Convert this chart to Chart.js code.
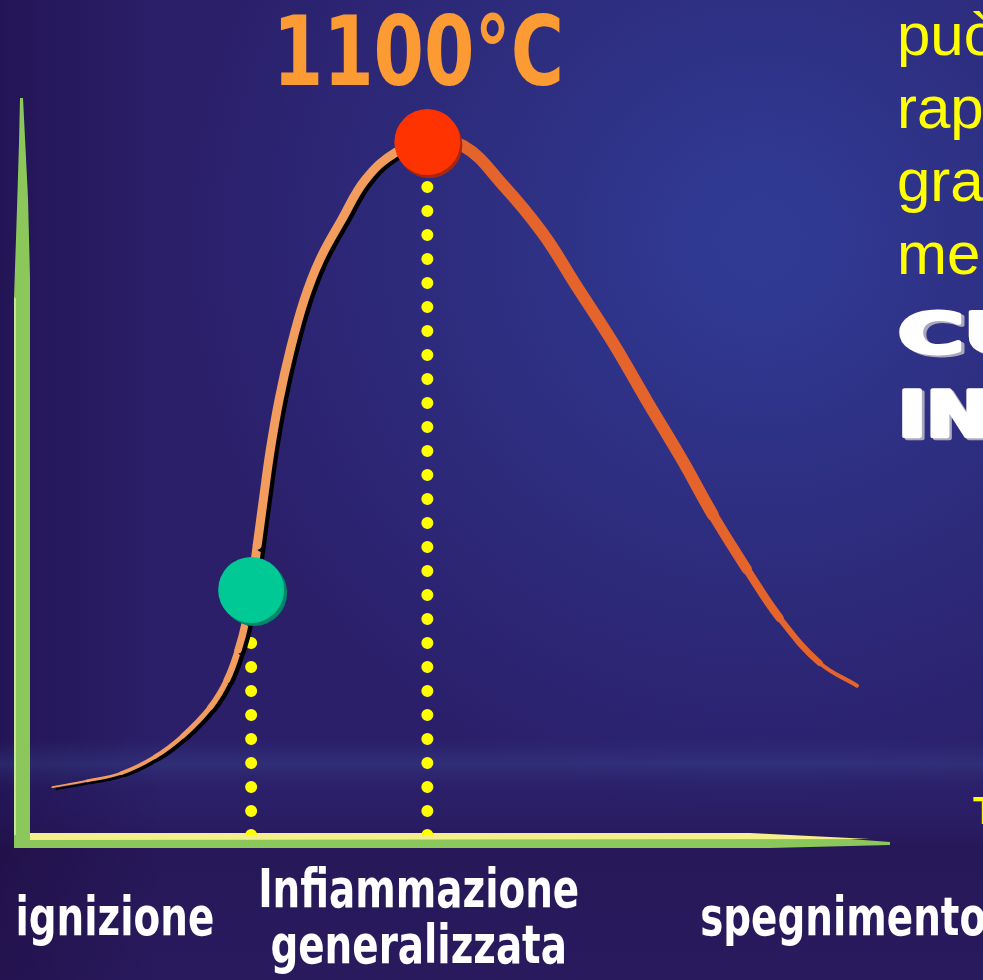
<!DOCTYPE html>
<html lang="it">
<head>
<meta charset="UTF-8">
<title>Curva dell'incendio</title>
<script src="https://cdn.jsdelivr.net/npm/chart.js"></script>
<style>
  html, body { margin: 0; padding: 0; background: #2a1f68; overflow: hidden; }
  #wrap { width: 983px; height: 980px; }
</style>
</head>
<body>
<div id="wrap"><canvas id="fireCurve"></canvas></div>
<script>
// fase di crescita (fino al picco)
const riseTime = [3.5, 7.5, 11.4, 15.3, 18.5, 21.7, 23.6, 24.9, 25.8, 26.4, 27.1, 27.8, 28.6, 29.6, 30.9, 32.5, 34.3, 36.8, 39.6, 43.1, 46.7];
const riseTemp = [76, 86, 98, 124, 157, 203, 246, 294, 341, 389, 460, 532, 611, 690, 770, 849, 913, 976, 1041, 1084, 1100];
// fase di decadimento
const fallTime = [46.7, 50.8, 55.4, 60.0, 63.9, 68.1, 72.0, 76.2, 79.6, 83.5, 87.3, 91.9, 96.2];
const fallTemp = [1100, 1094, 1032, 955, 871, 781, 689, 592, 508, 422, 344, 273, 237];

const flashTime = 26.4, flashTemp = 389;
const peakTime = 46.7, peakTemp = 1100;
const peakLabel = '1100°C';

const stageTime = [10.7, 45.7, 94.6];
const stageLabels = [['ignizione'], ['Infiammazione', 'generalizzata'], ['spegnimento']];

const sideLines = ['può', 'rap', 'gra', 'me'];
const sideBold = ['CU', 'IN'];

const timeMax = 100, tempMax = 1200, tempAxisTop = 1170;

const condensed = "'DejaVu Sans Condensed', 'DejaVu Sans', sans-serif";

const toXY = (xs, ys) => xs.map((x, i) => ({ x: x, y: ys[i] }));

// spessore variabile della curva
function riseWidth(c) {
  const t = c.p0DataIndex / (riseTime.length - 1);
  return 2 + 7 * Math.min(1, t * 2.2);
}
function fallWidth(c) {
  const t = c.p0DataIndex / (fallTime.length - 1);
  return t < 0.6 ? 12 : 12 - 10 * (t - 0.6) / 0.4;
}

const background = {
  id: 'background',
  beforeDraw(chart) {
    const { ctx, width, height } = chart;
    ctx.save();
    ctx.fillStyle = '#2b1f6a';
    ctx.fillRect(0, 0, width, height);
    let g = ctx.createRadialGradient(760, 240, 30, 760, 240, 580);
    g.addColorStop(0, 'rgba(50, 70, 165, 0.7)');
    g.addColorStop(1, 'rgba(50, 70, 165, 0)');
    ctx.fillStyle = g;
    ctx.fillRect(0, 0, width, height);
    g = ctx.createLinearGradient(0, 0, 160, 0);
    g.addColorStop(0, 'rgba(25, 8, 60, 0.45)');
    g.addColorStop(1, 'rgba(25, 8, 60, 0)');
    ctx.fillStyle = g;
    ctx.fillRect(0, 0, width, height);
    g = ctx.createLinearGradient(0, 740, 0, 980);
    g.addColorStop(0, 'rgba(60, 80, 150, 0)');
    g.addColorStop(0.1, 'rgba(60, 80, 150, 0.3)');
    g.addColorStop(0.22, 'rgba(40, 30, 90, 0.1)');
    g.addColorStop(0.45, 'rgba(30, 10, 55, 0.35)');
    g.addColorStop(1, 'rgba(35, 15, 65, 0.3)');
    ctx.fillStyle = g;
    ctx.fillRect(0, 740, width, 240);
    ctx.restore();
  }
};

const axes = {
  id: 'axes',
  beforeDatasetsDraw(chart) {
    const { ctx, scales: { x, y } } = chart;
    const x0 = x.getPixelForValue(0);
    const xEnd = x.getPixelForValue(timeMax);
    const y0 = y.getPixelForValue(0);
    const yTop = y.getPixelForValue(tempAxisTop);
    ctx.save();
    // asse verticale, appuntito in alto
    ctx.fillStyle = '#8cc75c';
    ctx.beginPath();
    ctx.moveTo(x0 - 2, yTop);
    ctx.lineTo(x0 + 1, yTop);
    ctx.lineTo(x0 + 3, yTop + 40);
    ctx.lineTo(x0 + 6, yTop + 100);
    ctx.lineTo(x0 + 8, yTop + 180);
    ctx.lineTo(x0 + 8, y0 + 13);
    ctx.lineTo(x0 - 8, y0 + 13);
    ctx.lineTo(x0 - 8, yTop + 200);
    ctx.lineTo(x0 - 5, yTop + 110);
    ctx.lineTo(x0 - 3, yTop + 45);
    ctx.closePath();
    ctx.fill();
    ctx.fillStyle = '#c6e59c';
    ctx.fillRect(x0 - 8, yTop + 200, 2, y0 - yTop - 200);
    // asse orizzontale
    ctx.fillStyle = '#8cc75c';
    ctx.beginPath();
    ctx.moveTo(x0 - 8, y0 + 4);
    ctx.lineTo(xEnd - 40, y0 + 4);
    ctx.lineTo(xEnd, y0 + 7);
    ctx.lineTo(xEnd, y0 + 10);
    ctx.lineTo(xEnd - 120, y0 + 13);
    ctx.lineTo(x0 - 8, y0 + 13);
    ctx.closePath();
    ctx.fill();
    ctx.fillStyle = '#f3f08c';
    ctx.beginPath();
    ctx.moveTo(x0 + 8, y0 - 2);
    ctx.lineTo(xEnd - 140, y0 - 2);
    ctx.lineTo(xEnd - 20, y0 + 4);
    ctx.lineTo(x0 + 8, y0 + 5);
    ctx.closePath();
    ctx.fill();
    ctx.restore();
  }
};

const shadows = {
  id: 'shadows',
  beforeDatasetDraw(chart, args) {
    const s = chart.data.datasets[args.index].shadow;
    if (!s) return;
    const ctx = chart.ctx;
    ctx.save();
    ctx.shadowColor = s.color;
    ctx.shadowOffsetX = s.x;
    ctx.shadowOffsetY = s.y;
    ctx.shadowBlur = s.blur || 0;
  },
  afterDatasetDraw(chart, args) {
    if (chart.data.datasets[args.index].shadow) chart.ctx.restore();
  }
};

function narrowText(ctx, text, cx, by, sx) {
  ctx.save();
  ctx.translate(cx, by);
  ctx.scale(sx, 1);
  ctx.fillText(text, 0, 0);
  ctx.restore();
}

const texts = {
  id: 'texts',
  afterDraw(chart) {
    const { ctx, scales: { x, y } } = chart;
    const y0 = y.getPixelForValue(0);
    ctx.save();
    ctx.textBaseline = 'alphabetic';
    ctx.textAlign = 'center';
    // temperatura di picco
    ctx.fillStyle = '#fc9a34';
    ctx.font = 'bold 96px ' + condensed;
    narrowText(ctx, peakLabel, x.getPixelForValue(peakTime) - 9, y.getPixelForValue(peakTemp) - 57, 0.84);
    // fasi dell'incendio sotto l'asse dei tempi
    ctx.fillStyle = '#ffffff';
    ctx.font = 'bold 54px ' + condensed;
    stageTime.forEach((t, i) => {
      const lines = stageLabels[i];
      const first = y0 + 100 - (lines.length - 1) * 28;
      lines.forEach((line, j) => narrowText(ctx, line, x.getPixelForValue(t), first + j * 56, 0.8));
    });
    // testo laterale (tagliato dal bordo)
    ctx.textAlign = 'left';
    ctx.fillStyle = '#ffff00';
    ctx.font = '60px "Liberation Sans", Arial, sans-serif';
    sideLines.forEach((t, i) => ctx.fillText(t, 897, 55 + i * 73));
    ctx.font = 'bold 38px "Liberation Sans", Arial, sans-serif';
    ctx.fillText('T', 973, 824);
    ctx.font = 'bold 56px "DejaVu Sans", sans-serif';
    sideBold.forEach((t, i) => {
      ctx.save();
      ctx.translate(898, i ? 436 : 352);
      ctx.scale(i ? 1.35 : 1.6, i ? 1.12 : 0.97);
      ctx.lineJoin = 'round';
      ctx.lineWidth = 4;
      ctx.fillStyle = ctx.strokeStyle = '#a9a9bd';
      ctx.fillText(t, 2, 2);
      ctx.strokeText(t, 2, 2);
      ctx.fillStyle = ctx.strokeStyle = '#ffffff';
      ctx.fillText(t, 0, 0);
      ctx.strokeText(t, 0, 0);
      ctx.restore();
    });
    ctx.restore();
  }
};

new Chart(document.getElementById('fireCurve'), {
  type: 'line',
  data: {
    datasets: [
      {
        label: 'picco',
        data: [{ x: peakTime, y: peakTemp }],
        showLine: false,
        pointRadius: 33,
        pointBackgroundColor: '#ff3300',
        pointBorderWidth: 0,
        shadow: { color: '#a8260e', x: 2, y: 3 }
      },
      {
        label: 'flashover',
        data: [{ x: flashTime, y: flashTemp }],
        showLine: false,
        pointRadius: 33,
        pointBackgroundColor: '#00c996',
        pointBorderWidth: 0,
        shadow: { color: '#00876a', x: 3, y: 3 }
      },
      {
        label: 'decadimento',
        data: toXY(fallTime, fallTemp),
        borderColor: '#e4642b',
        borderWidth: 12,
        borderCapStyle: 'round',
        borderJoinStyle: 'round',
        tension: 0.4,
        pointRadius: 0,
        segment: { borderWidth: fallWidth }
      },
      {
        label: 'crescita',
        data: toXY(riseTime, riseTemp),
        borderColor: '#f29c5e',
        borderWidth: 9,
        borderCapStyle: 'round',
        borderJoinStyle: 'round',
        tension: 0.4,
        pointRadius: 0,
        segment: { borderWidth: riseWidth },
        shadow: { color: '#000000', x: 4, y: 2 }
      },
      {
        label: 'linea picco',
        data: [{ x: peakTime, y: 0 }, { x: peakTime, y: peakTemp }],
        borderColor: '#ffff00',
        borderWidth: 12,
        borderDash: [0, 24],
        borderCapStyle: 'round',
        pointRadius: 0
      },
      {
        label: 'linea flashover',
        data: [{ x: flashTime, y: 0 }, { x: flashTime, y: flashTemp }],
        borderColor: '#ffff00',
        borderWidth: 12,
        borderDash: [0, 24],
        borderCapStyle: 'round',
        pointRadius: 0
      }
    ]
  },
  options: {
    responsive: true,
    maintainAspectRatio: false,
    animation: false,
    events: [],
    layout: { autoPadding: false, padding: { left: 22, right: 93, top: 79, bottom: 0 } },
    plugins: { legend: { display: false }, tooltip: { enabled: false } },
    scales: {
      x: {
        type: 'linear',
        min: 0,
        max: timeMax,
        grid: { display: false, drawTicks: false },
        border: { display: false },
        ticks: { display: false },
        afterFit: s => { s.height = 145; s.paddingLeft = 0; s.paddingRight = 0; }
      },
      y: {
        display: false,
        min: 0,
        max: tempMax
      }
    }
  },
  plugins: [background, axes, shadows, texts]
});
</script>
</body>
</html>
